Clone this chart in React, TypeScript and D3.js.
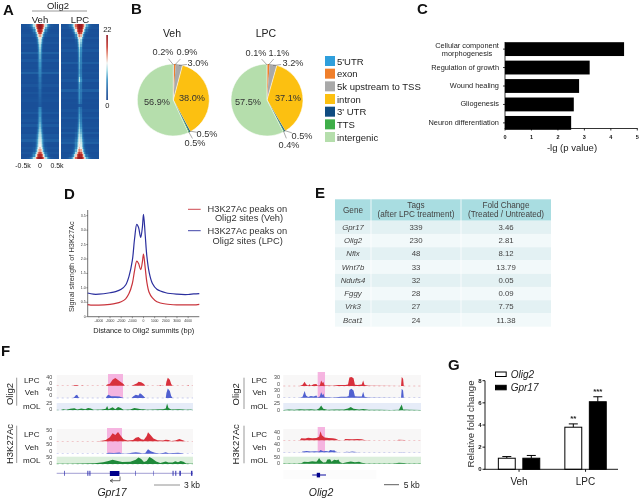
import React from "react";
import * as d3 from "d3";

const FONT = "'Liberation Sans', Arial, sans-serif";

// ---------- A: heatmap
const heatPeakVeh = [22,22,20,18,15,13,11.5,11,10,9.5,9,8.5,8,8,7.5,7,7,6.5,6,6,5.5,5,5,4.5,4.5,4.5,4,4,3.8,3.6,3.4,3.2,3,6,6.5,7,7,7.5,7.5,8,8.5,9,9.5,10,10.5,11,11.5,12,12.5,13.5,15,17.5,20,22];
const heatPeakLPC = [22,22,21,19,16,13.5,12,11.5,11,10,9.5,9,9,8.5,8.5,8,8,8,7.5,7.5,8,10,10.5,8,7.5,7.5,7,7,7,7,6.5,6,3,6,6.5,7,7.5,7.5,8,8.5,9,9.5,10,10,11,11.5,12,12.5,13,14,16,18.5,21,22];
const heatWidth = [6.5,5.5,4.8,4,3.4,2.8,2.4,2.1,1.9,1.8,1.7,1.7,1.6,1.6,1.6,1.6,1.6,1.6,1.6,1.6,1.6,1.6,1.6,1.6,1.6,1.6,1.6,1.6,1.6,1.6,1.6,1.6,1.6,1.6,1.6,1.6,1.6,1.6,1.7,1.8,1.9,2,2.2,2.4,2.6,2.8,3,3.2,3.4,3.6,3.9,4.4,5.2,6.5];
const heatBgVeh = [2,2,1.8,2,2.4,1.8,2,2.6,1.8,2,1.8,3.4,2,1.8,2.8,1.8,2,1.8,2.2,3.6,1.8,1.8,2,1.8,2.6,1.8,1.8,2.4,1.8,2,2.2,1.8,1.8,1.8,2,2.8,1.8,2,2.4,1.8,3,1.8,2,1.8,2.8,2.4,3.4,2,1.8,2.4,2,2.6,1.8,2];
const heatBgLPC = [2,2.4,1.8,2,1.8,2.6,1.8,2,2.2,1.8,2.8,1.8,2,1.8,2,3.2,1.8,2,1.8,2.4,2,1.8,2.8,1.8,2,1.8,3.4,1.8,2,2.2,1.8,2,1.8,1.8,2.4,1.8,2,2.8,1.8,2,2,2.4,1.8,3,1.8,2.2,2.8,3.4,1.8,2,2.2,1.8,2,2];
const heatStops = [0, 3, 7, 10, 12.5, 15, 18, 22];
const heatColors = ["#123f8c", "#1d5aa0", "#3a92c4", "#a4dbe6", "#f2f4f2", "#eaa08a", "#c8382f", "#8e1620"];

// ---------- B: pies
const pieCategories = ["5'UTR", "exon", "5k upstream to TSS", "intron", "3' UTR", "TTS", "intergenic"];
const pieColors = ["#2f9fdc", "#f07f2b", "#a9a9a9", "#fcc011", "#0f4c81", "#3fae49", "#b5deac"];
const vehPieValues = [0.2, 0.9, 3.0, 38.0, 0.5, 0.5, 56.9];
const lpcPieValues = [0.1, 1.1, 3.2, 37.1, 0.5, 0.4, 57.5];

// ---------- C: GO bars
const goTerms = ["Cellular component morphogenesis", "Regulation of growth", "Wound healing", "Gliogenesis", "Neuron differentiation"];
const goValues = [4.5, 3.2, 2.8, 2.6, 2.5];

// ---------- D: meta profile
const profileX = [-5000,-4500,-4000,-3000,-2500,-2000,-1600,-1300,-1000,-800,-600,-450,-250,-100,0,150,300,500,800,1200,2000,3000,4000,4500,5000];
const profileVeh = [.42,.40,.40,.43,.46,.52,.62,.80,1.15,1.6,1.93,1.85,1.63,1.9,2.17,1.7,1.2,.85,.65,.52,.44,.41,.41,.41,.43];
const profileLPC = [.82,.78,.78,.83,.87,.95,1.1,1.4,1.95,2.7,3.2,3.1,2.75,3.1,3.55,2.85,2.1,1.55,1.15,.95,.83,.78,.77,.79,.80];
const profileXTicks = [-4000,-3000,-2000,-1000,0,1000,2000,3000,4000];
const profileYTicks = [0,.5,1,1.5,2,2.5,3,3.5];

// ---------- E: table
const tableGenes = ["Gpr17", "Olig2", "Nfix", "Wnt7b", "Ndufs4", "Fggy", "Vrk3", "Bcat1"];
const tableTags = ["339", "230", "48", "33", "32", "28", "27", "24"];
const tableFold = ["3.46", "2.81", "8.12", "13.79", "0.05", "0.09", "7.75", "11.38"];

// ---------- F: browser tracks ([position %, signal])
const gprOligLPC = [[12,0],[13,3],[15,4],[16,0],[18,0],[18.5,2],[19.5,0],[36,0],[37,6],[39,10],[41,30],[43,38],[45,28],[47,18],[49,8],[50,0],[55,0],[57,6],[59,12],[60,20],[62,17],[64,8],[65,0],[75,0],[76,3],[77,0],[80,0],[80.5,20],[81.5,40],[83,30],[84,8],[85,0],[96,0],[96.5,3],[97,0]];
const gprOligVeh = [[12,0],[13,5],[14,14],[15,16],[16,4],[17,0],[36,0],[37,12],[38,16],[40,9],[43,9],[46,7],[48,3],[49,0],[55,0],[56,8],[58,16],[60,13],[61,24],[62,20],[64,8],[65,0],[80,0],[80.5,25],[81.5,48],[83,36],[84,10],[85,0]];
const gprOligMOL = [[3,0],[5,3],[7,1],[10,5],[13,7],[15,2],[18,6],[21,3],[23,8],[25,6],[27,1],[33,2],[36,5],[37,15],[38,3],[41,11],[43,3],[45,12],[47,8],[49,1],[54,2],[57,8],[60,5],[62,3],[64,3],[66,1],[72,2],[76,3],[78,3],[80,6],[81,25],[82,8],[84,2],[90,3],[95,1],[99,2]];
const gprAcLPC = [[30,0],[33,3],[36,7],[39,20],[41,40],[43,32],[45,46],[47,28],[49,10],[52,4],[56,6],[58,18],[60,22],[62,10],[64,8],[66,26],[67,45],[69,30],[71,14],[74,5],[78,4],[80,8],[82,7],[84,2],[87,4],[90,12],[92,6],[94,1],[95,0]];
const gprAcVeh = [[36,0],[38,5],[42,4],[46,6],[48,1],[52,1],[55,5],[58,7],[61,5],[63,1],[65,4],[67,22],[69,12],[72,5],[75,1],[78,3],[80,7],[82,2],[86,4],[89,5],[92,2],[93,0]];
const gprAcMOL = [[0,1],[10,2],[20,4],[28,5],[34,12],[38,22],[41,30],[44,24],[48,14],[54,16],[58,30],[60,46],[62,35],[64,14],[66,22],[68,50],[70,40],[73,18],[76,7],[78,12],[80,18],[82,10],[85,10],[87,20],[89,12],[91,22],[93,16],[95,3],[100,1]];

const oliOligLPC = [[12,0],[14,4],[15.5,14],[16.5,6],[18,1],[19,6],[20,1],[22,6],[24,7],[25,1],[26.5,2],[27.5,18],[28.5,10],[29,14],[30,2],[36,1],[40,3],[45,3],[47,5],[48,28],[49.5,30],[51,26],[52,4],[54,3],[57,5],[58,18],[59,3],[62,1],[85.5,0],[86,30],[87,24],[87.5,0]];
const oliOligVeh = [[12,0],[14,3],[15.5,22],[16.5,7],[18,2],[20,6],[22,4],[24,7],[25,1],[26.5,4],[27.5,18],[28.5,8],[29,14],[30,2],[36,1],[42,3],[46,3],[47.5,6],[48,26],[49.5,30],[51,24],[52,5],[54,4],[57,4],[58,20],[59,3],[62,1],[85.5,0],[86,30],[87,24],[87.5,0]];
const oliOligMOL = [[0,1],[4,3],[8,2],[12,4],[16,3],[20,4],[24,2],[26,7],[27.5,18],[29,6],[32,2],[38,3],[44,3],[47,7],[49,13],[51,6],[55,3],[58,5],[62,2],[70,2],[78,1],[84,2],[86,22],[87,3],[92,2],[100,1]];
const oliAcLPC = [[12,0],[13,10],[16,9],[18,13],[21,10],[24,12],[26,18],[27,45],[28,25],[30,14],[33,11],[36,10],[38,8],[40,1],[44,0],[45,6],[50,5],[54,7],[57,5],[59,1],[64,0],[82,0],[84,3],[88,2],[89,0]];
const oliAcVeh = [[13,0],[14,4],[17,6],[20,4],[23,5],[26,4],[27,12],[29,5],[31,6],[33,4],[34,11],[36,9],[37,10],[38,4],[40,0],[44,0],[46,3],[48,1],[50,4],[53,2],[55,0],[84,0],[86,2],[88,0]];
const oliAcMOL = [[0,1],[10,2],[13,4],[15,14],[18,12],[21,17],[24,14],[25,25],[26,40],[27,24],[29,8],[31,10],[32,30],[34,32],[35,14],[37,28],[39,24],[40,30],[41,12],[43,4],[46,10],[49,15],[52,10],[55,14],[57,6],[60,2],[80,2],[84,7],[87,5],[90,1],[100,1]];

const gprExons = [5.5, 22.5, 24, 57.5, 71, 85, 87, 90, 98.5];
const gprExonWidths = [.7, 1, 1, .6, .5, 1, 1, 1.5, 1.5];
const gprCds = [39, 46];
const oliGeneSpan = [21, 31];
const oliCds = [24.3, 26.7];

// ---------- G: qPCR bars
const qpcrGroups = ["Veh", "LPC"];
const qpcrSeries = ["Olig2", "Gpr17"];
const olig2Fold = [1.0, 3.8];
const gpr17Fold = [1.0, 6.1];
const olig2Err = [0.15, 0.3];
const gpr17Err = [0.25, 0.45];
const olig2Stars = ["", "**"];
const gpr17Stars = ["", "***"];
const qpcrTicks = [0, 2, 4, 6, 8];

const Txt = ({ x, y, s = 8, a = "middle", c = "#222", w = 400, it = false, rot, children }: any) => (
  <text
    x={x}
    y={y}
    fontSize={s}
    textAnchor={a}
    dominantBaseline="central"
    fill={c}
    fontWeight={w}
    fontStyle={it ? "italic" : "normal"}
    transform={rot ? `rotate(${rot} ${x} ${y})` : undefined}
  >
    {children}
  </text>
);

const heatColor = d3.scaleLinear<string>().domain(heatStops).range(heatColors).clamp(true);

function Heat({ x0, peaks, bgs }: { x0: number; peaks: number[]; bgs: number[] }) {
  const W = 37.4;
  const cols = d3.range(31);
  const xs = d3.scaleBand<number>().domain(cols).range([x0, x0 + W]);
  const ys = d3.scaleBand<number>().domain(d3.range(peaks.length)).range([24, 159]);
  return (
    <g shapeRendering="crispEdges">
      {peaks.map((p, r) =>
        cols.map((c) => {
          const d = (c + 0.5 - 15.5) * xs.bandwidth();
          const v = bgs[r] + (p - bgs[r]) * Math.exp(-((d / heatWidth[r]) ** 2));
          return <rect key={c} x={xs(c)} y={ys(r)} width={xs.bandwidth() + 0.3} height={ys.bandwidth() + 0.3} fill={heatColor(v)} />;
        })
      )}
    </g>
  );
}

function Pie({ cx, values, labels }: { cx: number; values: number[]; labels: [number, number][] }) {
  const cy = 100;
  const R = 36;
  const arcs = d3.pie<number>().sort(null)(values);
  const arc = d3.arc<any>().innerRadius(0).outerRadius(R);
  return (
    <g>
      {arcs.map((a, i) => (
        <path key={i} d={arc(a) as string} transform={`translate(${cx},${cy})`} fill={pieColors[i]} stroke="#fff" strokeWidth={i === 3 || i === 6 ? 0.6 : 0} />
      ))}
      {arcs.map((a, i) => {
        const big = values[i] > 10;
        const [lx, ly] = labels[i];
        const m = (a.startAngle + a.endAngle) / 2;
        const sx = cx + Math.sin(m) * (R - 1);
        const sy = cy - Math.cos(m) * (R - 1);
        const len = Math.hypot(lx - sx, ly - sy);
        const L = Math.min(8, len - 5);
        const ex = sx + ((lx - sx) / len) * L;
        const ey = sy + ((ly - sy) / len) * L;
        return (
          <g key={i}>
            {!big && <line x1={sx} y1={sy} x2={ex} y2={ey} stroke="#555" strokeWidth={0.5} />}
            <Txt x={lx} y={ly} s={9.2} c="#333">{values[i].toFixed(1)}%</Txt>
          </g>
        );
      })}
    </g>
  );
}

function Track({ pts, x, base, max, h, color }: any) {
  const y = d3.scaleLinear().domain([0, max]).range([base, base - h]);
  const area = d3.area<number[]>().x((d) => x(d[0])).y0(base).y1((d) => y(d[1]));
  return (
    <g>
      <line x1={x.range()[0]} x2={x.range()[1]} y1={base} y2={base} stroke={color} strokeWidth={0.5} strokeDasharray="2 3" opacity={0.6} />
      <path d={area(pts) as string} fill={color} />
    </g>
  );
}

const RED = "#d8303c";
const BLUE = "#5060d0";
const GREEN = "#1f8a3a";

export default function App() {
  // D scales
  const dx = d3.scaleLinear().domain([-5000, 5000]).range([87.7, 199.3]);
  const dy = d3.scaleLinear().domain([0, 3.5]).range([316.7, 215.7]);
  const dLine = d3.line<number>().x((_, i) => dx(profileX[i])).y((d) => dy(d)).curve(d3.curveCatmullRom.alpha(0.5));

  // C scales
  const cx = d3.scaleLinear().domain([0, 5]).range([505, 637.3]);
  const cy = d3.scaleBand<string>().domain(goTerms).range([42.2, 129.8]).paddingInner(0.25);

  // E scales
  const rowY = d3.scaleBand<string>().domain(tableGenes).range([220.7, 326.7]);

  // F scales
  const lx = d3.scaleLinear().domain([0, 100]).range([56.7, 193]);
  const rx = d3.scaleLinear().domain([0, 100]).range([283.3, 421]);

  // G scales
  const gx = d3.scaleBand<string>().domain(qpcrGroups).range([485.8, 618.8]);
  const gInner = d3.scaleBand<string>().domain(qpcrSeries).range([-20.7, 20.7]).paddingInner(0.31);
  const gy = d3.scaleLinear().domain([0, 8]).range([469.3, 380.7]);
  const gSeries = [
    { name: "Olig2", vals: olig2Fold, errs: olig2Err, stars: olig2Stars, fill: "#fff" },
    { name: "Gpr17", vals: gpr17Fold, errs: gpr17Err, stars: gpr17Stars, fill: "#000" },
  ];

  const pinks = [
    [108, 123, 374, 398],
    [107, 122, 428, 453],
    [317.7, 325, 372, 398],
    [317.7, 325, 427, 452],
  ];

  const leftTicks: [string, number][] = [["40",377.4],["0",383.3],["40",389.2],["0",395.3],["25",402.5],["0",408.5],["50",430],["0",438],["50",444],["0",451],["50",457],["0",463]];
  const rightTicks: [string, number][] = [["30",377],["0",383.5],["30",389.5],["0",396.3],["25",403.3],["0",409.7],["40",432],["0",438.3],["40",444.3],["0",450.4],["50",457],["0",463]];
  const trackLabels: [string, number][] = [["LPC",380],["Veh",392.7],["mOL",406.7],["LPC",434],["Veh",447.3],["mOL",460]];

  return (
    <svg width={640} height={499} viewBox="0 0 640 499" style={{ position: "absolute", left: 0, top: 0, fontFamily: FONT, background: "#fff", filter: "blur(0.4px)" }}>
      <defs>
        <linearGradient id="cbar" x1="0" y1="1" x2="0" y2="0">
          {heatStops.map((s, i) => (
            <stop key={i} offset={s / 22} stopColor={heatColors[i]} />
          ))}
        </linearGradient>
      </defs>

      {/* panel letters */}
      {[["A",3,9],["B",131,8],["C",417,8],["D",64,193],["E",315,192],["F",1,350],["G",448,364]].map(([l, x, y]: any) => (
        <Txt key={l} x={x} y={y} s={15} a="start" c="#111" w={700}>{l}</Txt>
      ))}

      {/* A */}
      <Txt x={58} y={5} s={9.5}>Olig2</Txt>
      <line x1={32} x2={87} y1={11} y2={11} stroke="#333" strokeWidth={0.5} />
      <Txt x={40} y={19} s={9.5}>Veh</Txt>
      <Txt x={80} y={19} s={9.5}>LPC</Txt>
      <Heat x0={21.3} peaks={heatPeakVeh} bgs={heatBgVeh} />
      <Heat x0={61} peaks={heatPeakLPC} bgs={heatBgLPC} />
      <rect x={106.3} y={35} width={1.6} height={65} fill="url(#cbar)" />
      <Txt x={107.3} y={29} s={7.5}>22</Txt>
      <Txt x={107.3} y={105} s={7.5}>0</Txt>
      <Txt x={23} y={165.7} s={7}>-0.5k</Txt>
      <Txt x={40} y={165.7} s={7}>0</Txt>
      <Txt x={57} y={165.7} s={7}>0.5k</Txt>

      {/* B */}
      <Txt x={172} y={33} s={10.5}>Veh</Txt>
      <Txt x={266} y={33} s={10.5}>LPC</Txt>
      <Pie cx={173.3} values={vehPieValues} labels={[[163,52],[187,52],[198,63],[192,98],[207,134],[195,143],[157,102]]} />
      <Pie cx={267} values={lpcPieValues} labels={[[256,53],[279,53],[293,63],[288,98],[302,136],[289,145],[248,102]]} />
      {pieCategories.map((c, i) => {
        const y = 61 + i * 12.67;
        return (
          <g key={c}>
            <rect x={325} y={y - 5} width={10} height={10} fill={pieColors[i]} />
            <Txt x={337} y={y} s={9.5} a="start" c="#222">{c}</Txt>
          </g>
        );
      })}

      {/* C */}
      {goTerms.map((t, i) => (
        <g key={t}>
          <rect x={cx(0)} y={cy(t)} width={cx(goValues[i]) - cx(0)} height={cy.bandwidth()} fill="#000" />
          <line x1={cx(0) - 2} x2={cx(0)} y1={cy(t)! + cy.bandwidth() / 2} y2={cy(t)! + cy.bandwidth() / 2} stroke="#000" strokeWidth={0.8} />
        </g>
      ))}
      <Txt x={467} y={45} s={7.4} c="#222">Cellular component</Txt>
      <Txt x={467} y={53.5} s={7.4} c="#222">morphogenesis</Txt>
      {goTerms.slice(1).map((t) => (
        <Txt key={t} x={499} y={cy(t)! + cy.bandwidth() / 2 - 0.5} s={7.4} a="end" c="#222">{t}</Txt>
      ))}
      <line x1={505} x2={505} y1={42} y2={128.5} stroke="#000" strokeWidth={0.8} />
      <line x1={504.6} x2={637.7} y1={128.5} y2={128.5} stroke="#000" strokeWidth={0.8} />
      {cx.ticks(5).map((t) => (
        <g key={t}>
          <line x1={cx(t)} x2={cx(t)} y1={128.5} y2={130.5} stroke="#000" strokeWidth={0.8} />
          <Txt x={cx(t)} y={137} s={5.5} w={700} c="#111">{t}</Txt>
        </g>
      ))}
      <Txt x={572} y={147} s={9.5}>-lg (p value)</Txt>

      {/* D */}
      <line x1={dx(-5000)} x2={dx(-5000)} y1={210} y2={dy(0)} stroke="#333" strokeWidth={0.7} />
      <line x1={dx(-5000)} x2={dx(5000)} y1={dy(0)} y2={dy(0)} stroke="#333" strokeWidth={0.7} />
      {profileYTicks.map((t) => (
        <g key={t}>
          <line x1={dx(-5000) - 1.5} x2={dx(-5000)} y1={dy(t)} y2={dy(t)} stroke="#333" strokeWidth={0.5} />
          <Txt x={dx(-5000) - 2} y={dy(t)} s={3.6} a="end" c="#333">{t === 0 ? "0" : t.toFixed(1)}</Txt>
        </g>
      ))}
      {profileXTicks.map((t) => (
        <g key={t}>
          <line x1={dx(t)} x2={dx(t)} y1={dy(0)} y2={dy(0) + 1.5} stroke="#333" strokeWidth={0.5} />
          <Txt x={dx(t)} y={dy(0) + 4} s={3.4} c="#333">{t}</Txt>
        </g>
      ))}
      <path d={dLine(profileVeh) as string} fill="none" stroke="#c9343c" strokeWidth={1.2} />
      <path d={dLine(profileLPC) as string} fill="none" stroke="#2b2f9e" strokeWidth={1.2} />
      <Txt x={72} y={266.7} s={7.4} rot={-90} c="#333">Signal strength of H3K27Ac</Txt>
      <Txt x={143.7} y={330} s={7.4} c="#222">Distance to Olig2 summits (bp)</Txt>
      <line x1={188} x2={200.7} y1={209.3} y2={209.3} stroke="#c9343c" strokeWidth={0.9} />
      <line x1={188} x2={200.7} y1={230.7} y2={230.7} stroke="#2b2f9e" strokeWidth={0.9} />
      <Txt x={247.3} y={209} s={9.3} c="#333">H3K27Ac peaks on</Txt>
      <Txt x={249} y={218} s={9.3} c="#333">Olig2 sites (Veh)</Txt>
      <Txt x={247.3} y={231} s={9.3} c="#333">H3K27Ac peaks on</Txt>
      <Txt x={247.7} y={240.7} s={9.3} c="#333">Olig2 sites (LPC)</Txt>

      {/* E */}
      <rect x={335} y={199.3} width={216} height={21.4} fill="#a9dde1" />
      {tableGenes.map((g, i) => (
        <g key={g}>
          <rect x={335} y={rowY(g)} width={216} height={rowY.bandwidth()} fill={i % 2 === 0 ? "#e3f1f3" : "#f2f9fa"} />
          <Txt x={353} y={rowY(g)! + rowY.bandwidth() / 2} s={7.8} it c="#444">{g}</Txt>
          <Txt x={416} y={rowY(g)! + rowY.bandwidth() / 2} s={7.8} c="#444">{tableTags[i]}</Txt>
          <Txt x={506} y={rowY(g)! + rowY.bandwidth() / 2} s={7.8} c="#444">{tableFold[i]}</Txt>
        </g>
      ))}
      {[371, 461].map((x) => (
        <line key={x} x1={x} x2={x} y1={199.3} y2={326.7} stroke="#fff" strokeWidth={0.8} />
      ))}
      <Txt x={353} y={210} s={8.2} c="#444">Gene</Txt>
      <Txt x={416} y={205.3} s={8.2} c="#444">Tags</Txt>
      <Txt x={416} y={214.7} s={8.2} c="#444">(after LPC treatment)</Txt>
      <Txt x={506} y={205.3} s={8.2} c="#444">Fold Change</Txt>
      <Txt x={506} y={214.7} s={8.2} c="#444">(Treated / Untreated)</Txt>

      {/* F backgrounds */}
      {[lx, rx].map((x, i) => (
        <g key={i}>
          <rect x={x.range()[0]} y={375} width={x.range()[1] - x.range()[0]} height={23} fill="#f8f7f7" />
          <rect x={x.range()[0]} y={403} width={x.range()[1] - x.range()[0]} height={7.5} fill="#e6ecf8" />
          <rect x={x.range()[0]} y={429} width={x.range()[1] - x.range()[0]} height={24} fill="#f8f7f7" />
          <rect x={x.range()[0]} y={456.7} width={x.range()[1] - x.range()[0]} height={7.3} fill="#dcefdc" />
        </g>
      ))}
      {pinks.map((p, i) => (
        <rect key={i} x={p[0]} y={p[2]} width={p[1] - p[0]} height={p[3] - p[2]} fill="#f5a8dc" opacity={0.85} />
      ))}

      <Track pts={gprOligLPC} x={lx} base={385.7} max={40} h={8} color={RED} />
      <Track pts={gprOligVeh} x={lx} base={398} max={48} h={9.5} color={BLUE} />
      <Track pts={gprOligMOL} x={lx} base={410} max={25} h={6.5} color={GREEN} />
      <Track pts={gprAcLPC} x={lx} base={441.3} max={50} h={10} color={RED} />
      <Track pts={gprAcVeh} x={lx} base={453.7} max={50} h={10} color={BLUE} />
      <Track pts={gprAcMOL} x={lx} base={464} max={50} h={7} color={GREEN} />

      <Track pts={oliOligLPC} x={rx} base={386} max={30} h={9} color={RED} />
      <Track pts={oliOligVeh} x={rx} base={397.7} max={30} h={9} color={BLUE} />
      <Track pts={oliOligMOL} x={rx} base={410.3} max={25} h={6.5} color={GREEN} />
      <Track pts={oliAcLPC} x={rx} base={440.3} max={40} h={8} color={RED} />
      <Track pts={oliAcVeh} x={rx} base={452.3} max={40} h={8} color={BLUE} />
      <Track pts={oliAcMOL} x={rx} base={463.7} max={50} h={7} color={GREEN} />

      {leftTicks.map(([t, y], i) => (
        <Txt key={i} x={52.3} y={y} s={5.4} a="end" c="#444">{t}</Txt>
      ))}
      {rightTicks.map(([t, y], i) => (
        <Txt key={i} x={280} y={y} s={5.4} a="end" c="#444">{t}</Txt>
      ))}
      {trackLabels.map(([t, y], i) => (
        <g key={i}>
          <Txt x={31.7} y={y} s={8} c="#222">{t}</Txt>
          <Txt x={259.3} y={y} s={8} c="#222">{t}</Txt>
        </g>
      ))}
      <Txt x={9} y={394} s={9.5} rot={-90}>Olig2</Txt>
      <Txt x={9} y={444} s={9.5} rot={-90}>H3K27Ac</Txt>
      <Txt x={235.7} y={394.3} s={9.5} rot={-90}>Olig2</Txt>
      <Txt x={235.7} y={444.3} s={9.5} rot={-90}>H3K27Ac</Txt>
      <line x1={16.7} x2={16.7} y1={377.7} y2={405.7} stroke="#999" strokeWidth={1} />
      <line x1={16.7} x2={16.7} y1={425.7} y2={463} stroke="#999" strokeWidth={1} />
      <line x1={244} x2={244} y1={377.7} y2={409} stroke="#999" strokeWidth={1} />
      <line x1={244} x2={244} y1={425.7} y2={463.3} stroke="#999" strokeWidth={1} />

      {/* gene models */}
      <line x1={lx(0)} x2={lx(100)} y1={473.3} y2={473.3} stroke="#8a86c8" strokeWidth={0.8} />
      {gprExons.map((p, i) => (
        <rect key={i} x={lx(p)} y={470.8} width={gprExonWidths[i]} height={5} fill="#3434b0" />
      ))}
      <rect x={lx(gprCds[0])} y={471} width={lx(gprCds[1]) - lx(gprCds[0])} height={5} fill="#00008b" />
      <path d="M120 476.5V480.7H110.5M113 479L110 480.7L113 482.4" fill="none" stroke="#333" strokeWidth={0.7} />
      <line x1={154} x2={180} y1={485} y2={485} stroke="#777" strokeWidth={0.8} />
      <Txt x={184} y={484.7} s={8.5} a="start">3 kb</Txt>
      <Txt x={112} y={492} s={10.5} it>Gpr17</Txt>

      <rect x={rx(0)} y={470} width={93} height={9} fill="#fcfcfc" />
      <line x1={rx(oliGeneSpan[0])} x2={rx(oliGeneSpan[1])} y1={475} y2={475} stroke="#3434b0" strokeWidth={1.2} />
      <rect x={rx(oliCds[0])} y={472.8} width={rx(oliCds[1]) - rx(oliCds[0])} height={4.6} fill="#00008b" />
      <line x1={384} x2={399} y1={484.7} y2={484.7} stroke="#333" strokeWidth={0.8} />
      <Txt x={403.7} y={484.7} s={8.5} a="start">5 kb</Txt>
      <Txt x={321} y={491.7} s={10.5} it>Olig2</Txt>

      {/* G */}
      {gSeries.map((s) =>
        qpcrGroups.map((g, i) => {
          const x = gx(g)! + gx.bandwidth() / 2 + gInner(s.name)!;
          const w = gInner.bandwidth();
          const mid = x + w / 2;
          return (
            <g key={s.name + g}>
              <line x1={mid} x2={mid} y1={gy(s.vals[i])} y2={gy(s.vals[i] + s.errs[i])} stroke="#000" strokeWidth={1} />
              <line x1={mid - 4.5} x2={mid + 4.5} y1={gy(s.vals[i] + s.errs[i])} y2={gy(s.vals[i] + s.errs[i])} stroke="#000" strokeWidth={1} />
              <rect x={x} y={gy(s.vals[i])} width={w} height={gy(0) - gy(s.vals[i])} fill={s.fill} stroke="#000" strokeWidth={1} />
              {s.stars[i] && (
                <Txt x={mid} y={gy(s.vals[i] + s.errs[i]) - 5} s={8} c="#222" w={700}>{s.stars[i]}</Txt>
              )}
            </g>
          );
        })
      )}
      <line x1={485} x2={485} y1={gy(8)} y2={gy(0)} stroke="#000" strokeWidth={0.9} />
      <line x1={484.5} x2={618} y1={gy(0)} y2={gy(0)} stroke="#000" strokeWidth={0.9} />
      {qpcrTicks.map((t) => (
        <g key={t}>
          <line x1={482.5} x2={485} y1={gy(t)} y2={gy(t)} stroke="#000" strokeWidth={0.9} />
          <Txt x={481.5} y={gy(t)} s={6} a="end" w={700} c="#111">{t}</Txt>
        </g>
      ))}
      {qpcrGroups.map((g) => (
        <g key={g}>
          <line x1={gx(g)! + gx.bandwidth() / 2} x2={gx(g)! + gx.bandwidth() / 2} y1={gy(0)} y2={gy(0) + 2.5} stroke="#000" strokeWidth={0.9} />
          <Txt x={gx(g)! + gx.bandwidth() / 2} y={481.7} s={10}>{g}</Txt>
        </g>
      ))}
      <Txt x={470} y={424} s={9.6} rot={-90} c="#333">Relative fold change</Txt>
      {gSeries.map((s, i) => (
        <g key={s.name}>
          <rect x={495.5} y={372 + i * 13.3} width={10.7} height={4.5} fill={s.fill} stroke="#000" strokeWidth={1} />
          <Txt x={510.7} y={374.3 + i * 13.3} s={10} a="start" it c="#222">{s.name}</Txt>
        </g>
      ))}
    </svg>
  );
}
